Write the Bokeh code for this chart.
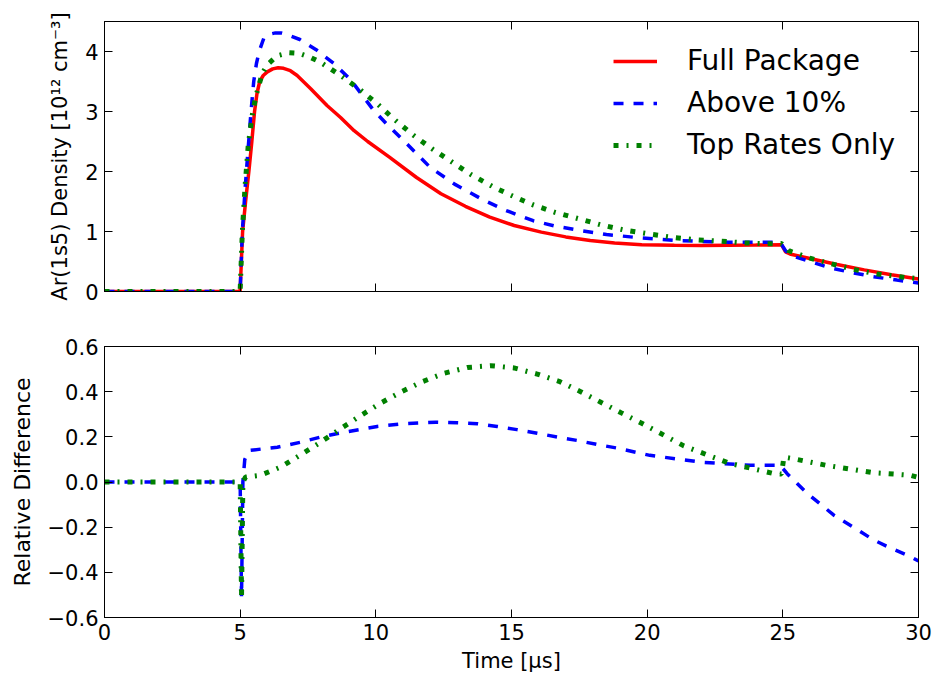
from bokeh.plotting import figure
from bokeh.models import Range1d, LinearAxis, FixedTicker
from bokeh.layouts import column
from bokeh.embed import file_html
from bokeh.resources import INLINE

# ---- top panel: Ar(1s5) density [1e12 cm^-3] vs time [us] ----
t_full = [0, 4.98, 5.0, 5.09, 5.2, 5.32, 5.43, 5.53, 5.62, 5.72, 5.85, 6.0, 6.2, 6.4, 6.6,
          6.85, 7.1, 7.6, 8.2, 8.7, 9.2, 9.7, 10.5, 11.5, 12.4, 13.3, 14.2, 15.1, 16.1, 17.0,
          17.9, 18.8, 19.8, 21, 22, 23, 24, 24.95, 25.1, 25.3, 26, 27, 28, 29, 30]
full_package = [0, 0, 0.02, 1.0, 1.5, 2.0, 2.5, 3.0, 3.3, 3.5, 3.6, 3.66, 3.71, 3.73, 3.72,
                3.68, 3.6, 3.38, 3.1, 2.9, 2.68, 2.5, 2.24, 1.9, 1.63, 1.42, 1.24, 1.1, 0.99, 0.91,
                0.85, 0.81, 0.78, 0.77, 0.765, 0.77, 0.775, 0.78, 0.66, 0.62, 0.55, 0.45, 0.36, 0.28, 0.21]

t_above = [0, 4.98, 5.0, 5.08, 5.18, 5.28, 5.4, 5.5, 5.6, 5.7, 5.87, 6.1, 6.3, 6.5, 6.8, 7.2,
           7.8, 8.45, 9.07, 9.9, 10.4, 11.1, 12.0, 12.9, 13.9, 14.8, 15.8, 16.6, 17.5, 18.5,
           19.5, 21.1, 23.0, 24.9, 25.1, 25.3, 26.0, 26.7, 27.5, 28.3, 29.2, 30]
above_10 = [0, 0, 0.02, 1.0, 1.7, 2.3, 3.0, 3.5, 3.8, 4.0, 4.22, 4.29, 4.31, 4.31, 4.27, 4.2,
            4.03, 3.8, 3.53, 3.03, 2.79, 2.48, 2.07, 1.79, 1.54, 1.35, 1.18, 1.09, 1.02, 0.95,
            0.905, 0.85, 0.82, 0.82, 0.68, 0.6, 0.5, 0.4, 0.32, 0.25, 0.19, 0.14]

t_top = [0, 4.98, 5.0, 5.08, 5.18, 5.3, 5.45, 5.57, 5.7, 5.81, 6.0, 6.37, 6.8, 7.16, 7.6, 7.96,
         8.7, 9.4, 10.05, 10.7, 11.4, 12.1, 12.8, 13.5, 14.3, 15.0, 15.82, 16.6, 17.5, 18.3,
         19.2, 20.06, 20.9, 21.85, 22.7, 23.57, 24.43, 24.95, 25.1, 25.22, 26.0, 26.8, 27.7,
         28.5, 29.4, 30]
top_rates = [0, 0, 0.02, 1.0, 1.75, 2.45, 2.95, 3.24, 3.45, 3.63, 3.78, 3.93, 3.98, 3.97, 3.9,
             3.82, 3.6, 3.37, 3.13, 2.86, 2.6, 2.37, 2.16, 1.95, 1.75, 1.6, 1.44, 1.32, 1.21,
             1.11, 1.02, 0.96, 0.905, 0.86, 0.84, 0.81, 0.795, 0.8, 0.74, 0.68, 0.555, 0.46,
             0.36, 0.29, 0.24, 0.215]

# ---- bottom panel: relative difference ----
t_rel_above = [0, 5.0, 5.05, 5.1, 5.17, 5.35, 6.37, 7.22, 7.96, 8.82, 10.05, 11.0, 12.2, 13.0,
               13.74, 14.47, 15.2, 15.95, 16.69, 17.42, 18.16, 18.9, 20.1, 21.97, 23.8, 24.9,
               25.16, 25.9, 26.88, 27.6, 28.35, 29.0, 29.7, 30]
rel_above = [0, 0, -0.51, 0.0, 0.1, 0.14, 0.154, 0.176, 0.199, 0.22, 0.246, 0.258, 0.265, 0.262,
             0.258, 0.246, 0.232, 0.216, 0.199, 0.184, 0.166, 0.15, 0.118, 0.088, 0.074, 0.074,
             0.037, -0.05, -0.147, -0.2, -0.257, -0.294, -0.33, -0.35]

t_rel_top = [0, 5.0, 5.05, 5.1, 5.2, 5.75, 6.49, 7.22, 7.96, 8.7, 9.44, 10.17, 10.9, 11.71,
             12.5, 13.37, 14.23, 15.09, 15.95, 16.75, 17.55, 18.31, 19.08, 19.8, 21.35, 23.0,
             24.67, 24.95, 25.04, 25.3, 26.6, 28.35, 29.7, 30]
rel_top = [0, 0, -0.51, 0.0, 0.022, 0.03, 0.066, 0.12, 0.176, 0.236, 0.294, 0.349, 0.397, 0.444,
           0.481, 0.507, 0.515, 0.505, 0.478, 0.446, 0.4, 0.352, 0.304, 0.26, 0.16, 0.084,
           0.037, 0.035, 0.11, 0.105, 0.074, 0.041, 0.03, 0.02]

x_ticks = [0, 5, 10, 15, 20, 25, 30]
y_ticks_top = [0, 1, 2, 3, 4]
y_ticks_bot = [-0.6, -0.4, -0.2, 0.0, 0.2, 0.4, 0.6]
y_labels_bot = {-0.6: "\u22120.6", -0.4: "\u22120.4", -0.2: "\u22120.2", 0.0: "0.0",
                0.2: "0.2", 0.4: "0.4", 0.6: "0.6"}

FONT = "DejaVu Sans"
RED, BLUE, GREEN = "#ff0000", "#0000ff", "#008000"


def style_axis(ax, ticks, show_labels, overrides=None):
    ax.ticker = FixedTicker(ticks=ticks)
    ax.major_tick_in = 8
    ax.major_tick_out = 0
    ax.minor_tick_line_color = None
    ax.axis_line_color = "black"
    ax.major_tick_line_color = "black"
    ax.major_label_text_font = FONT
    ax.major_label_text_color = "black"
    ax.major_label_text_font_size = "21px"
    ax.axis_label_text_font = FONT
    ax.axis_label_text_font_style = "normal"
    ax.axis_label_text_color = "black"
    if show_labels:
        ax.major_label_standoff = 6
        if overrides:
            ax.major_label_overrides = overrides
    else:
        ax.major_label_standoff = 0
        ax.major_label_overrides = {t: "" for t in ticks}


def make_fig(frame_h, yr, top, bottom):
    p = figure(frame_width=814, frame_height=frame_h, x_range=Range1d(0, 30), y_range=yr,
               output_backend="svg", toolbar_location=None,
               min_border_left=104, min_border_right=15, min_border_top=top,
               min_border_bottom=bottom)
    p.grid.visible = False
    p.outline_line_color = "black"
    p.outline_line_width = 1
    p.background_fill_color = "white"
    p.border_fill_color = "white"
    return p


# top figure
p1 = make_fig(270, Range1d(0, 4.5), 21, 30)
p1.line(t_full, full_package, color=RED, line_width=3.5, legend_label="Full Package")
p1.line(t_above, above_10, color=BLUE, line_width=3.5, line_dash="10 10",
        legend_label="Above 10%")
p1.line(t_top, top_rates, color=GREEN, line_width=5, line_dash="5 8 2 8",
        legend_label="Top Rates Only")
style_axis(p1.xaxis[0], x_ticks, False)
style_axis(p1.yaxis[0], y_ticks_top, True)
p1.yaxis[0].axis_label = "Ar(1s5) Density [10\u00b9\u00b2 cm\u207b\u00b3]"
p1.yaxis[0].axis_label_text_font_size = "21px"
p1.yaxis[0].axis_label_standoff = 10
ax_r = LinearAxis(); style_axis(ax_r, y_ticks_top, False); p1.add_layout(ax_r, "right")
ax_t = LinearAxis(); style_axis(ax_t, x_ticks, False); p1.add_layout(ax_t, "above")

lg = p1.legend[0]
lg.location = "top_right"
lg.border_line_color = None
lg.background_fill_alpha = 0
lg.label_text_font = FONT
lg.label_text_font_size = "28px"
lg.label_text_color = "black"
lg.glyph_width = 44
lg.label_standoff = 30
lg.spacing = 9
lg.padding = 8
lg.margin = 23

# bottom figure
p2 = make_fig(271, Range1d(-0.6, 0.6), 25, 54)
p2.line(t_rel_above, rel_above, color=BLUE, line_width=3.5, line_dash="10 10")
p2.line(t_rel_top, rel_top, color=GREEN, line_width=5, line_dash="5 8 2 8")
style_axis(p2.xaxis[0], x_ticks, True)
p2.xaxis[0].axis_label = "Time [\u03bcs]"
p2.xaxis[0].axis_label_text_font_size = "21px"
p2.xaxis[0].axis_label_standoff = 6
style_axis(p2.yaxis[0], y_ticks_bot, True, y_labels_bot)
p2.yaxis[0].axis_label = "Relative Difference"
p2.yaxis[0].axis_label_text_font_size = "22px"
p2.yaxis[0].axis_label_standoff = 10
ax_r2 = LinearAxis(); style_axis(ax_r2, y_ticks_bot, False); p2.add_layout(ax_r2, "right")
ax_t2 = LinearAxis(); style_axis(ax_t2, x_ticks, False); p2.add_layout(ax_t2, "above")

layout = column(p1, p2, spacing=0)
open("out.html", "w").write(file_html(layout, INLINE))
